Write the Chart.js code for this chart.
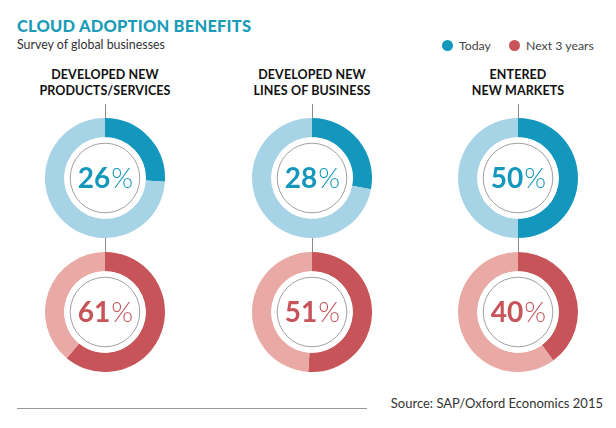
<!DOCTYPE html>
<html>
<head>
<meta charset="utf-8">
<script src="https://cdn.jsdelivr.net/npm/chart.js@4"></script>
<style>
  body { margin: 0; background: #fff; }
  #page { position: relative; width: 616px; height: 428px; font-family: Lato, "Open Sans", sans-serif; overflow: hidden; }
  .title { position: absolute; left: 17px; top: 16px; font-size: 16.5px; font-weight: 900; color: #1b9cb8; letter-spacing: 0.2px; }
  .sub { position: absolute; left: 17px; top: 37px; font-size: 12.4px; color: #333; }
  .legend { position: absolute; top: 38px; font-size: 12.3px; color: #444; display: flex; align-items: center; }
  .legend i { display: inline-block; width: 11px; height: 11px; border-radius: 50%; margin-right: 6px; }
  .head { position: absolute; top: 67px; width: 180px; text-align: center; font-size: 12.5px; font-weight: 700; line-height: 16px; color: #111; letter-spacing: 0.1px; }
  .vline { position: absolute; width: 1px; background: #8a8a8a; top: 104px; height: 150px; }
  .donut { position: absolute; width: 120px; height: 120px; }
  .src { position: absolute; right: 13px; top: 395px; font-size: 13px; color: #333; }
  .hline { position: absolute; left: 17px; top: 408px; width: 350px; height: 1px; background: #999; }
</style>
</head>
<body>
<div id="page">
  <div class="title">CLOUD ADOPTION BENEFITS</div>
  <div class="sub">Survey of global businesses</div>
  <div class="legend" style="left:442px"><i style="background:#1497bd"></i>Today</div>
  <div class="legend" style="left:509px"><i style="background:#c65459"></i>Next 3 years</div>
  <div class="src">Source: SAP/Oxford Economics 2015</div>
  <div class="hline"></div>
</div>
<script>
const categories = [["DEVELOPED NEW", "PRODUCTS/SERVICES"], ["DEVELOPED NEW", "LINES OF BUSINESS"], ["ENTERED", "NEW MARKETS"]];
const todayValues = [26, 28, 50];
const next3Values = [61, 51, 40];

const colX = [105, 312, 518];
const rowY = [178, 312];
const palettes = [
  { dark: "#1497bd", light: "#a7d3e6" },
  { dark: "#c65459", light: "#e9a9a4" }
];

const page = document.getElementById("page");

// inner white disc, thin ring and the percent label
const centerLabel = {
  id: "centerLabel",
  afterDraw(chart) {
    const ctx = chart.ctx;
    const meta = chart.getDatasetMeta(0).data[0];
    const x = meta.x, y = meta.y;
    const inner = meta.innerRadius;
    ctx.save();
    ctx.beginPath();
    ctx.arc(x, y, inner, 0, Math.PI * 2);
    ctx.fillStyle = "#fff";
    ctx.fill();
    ctx.beginPath();
    ctx.arc(x, y, inner - 6, 0, Math.PI * 2);
    ctx.strokeStyle = "#777";
    ctx.lineWidth = 0.7;
    ctx.stroke();

    const val = String(chart.data.datasets[0].data[0]);
    const col = chart.options.plugins.centerLabel.color;
    ctx.textBaseline = "alphabetic";
    ctx.font = "700 28px Lato";
    const w1 = ctx.measureText(val).width;
    ctx.font = "300 28px Lato";
    const w2 = ctx.measureText("%").width;
    const start = x - (w1 + w2) / 2;
    ctx.fillStyle = col;
    ctx.font = "700 28px Lato";
    ctx.fillText(val, start, y + 10);
    ctx.font = "300 28px Lato";
    ctx.fillText("%", start + w1 + 1, y + 10);
    ctx.restore();
  }
};

categories.forEach((lines, i) => {
  const head = document.createElement("div");
  head.className = "head";
  head.style.left = (colX[i] - 90) + "px";
  head.innerHTML = lines.join("<br>");
  page.appendChild(head);

  const line = document.createElement("div");
  line.className = "vline";
  line.style.left = colX[i] + "px";
  page.appendChild(line);

  [todayValues[i], next3Values[i]].forEach((v, r) => {
    const box = document.createElement("div");
    box.className = "donut";
    box.style.left = (colX[i] - 60) + "px";
    box.style.top = (rowY[r] - 60) + "px";
    const cv = document.createElement("canvas");
    box.appendChild(cv);
    page.appendChild(box);

    new Chart(cv, {
      type: "doughnut",
      data: {
        labels: ["Share", "Rest"],
        datasets: [{
          data: [v, 100 - v],
          backgroundColor: [palettes[r].dark, palettes[r].light],
          borderWidth: 0
        }]
      },
      options: {
        responsive: true,
        maintainAspectRatio: false,
        animation: false,
        cutout: "68%",
        layout: { padding: 0 },
        plugins: {
          legend: { display: false },
          tooltip: { enabled: false },
          centerLabel: { color: palettes[r].dark }
        }
      },
      plugins: [centerLabel]
    });
  });
});
</script>
</body>
</html>
